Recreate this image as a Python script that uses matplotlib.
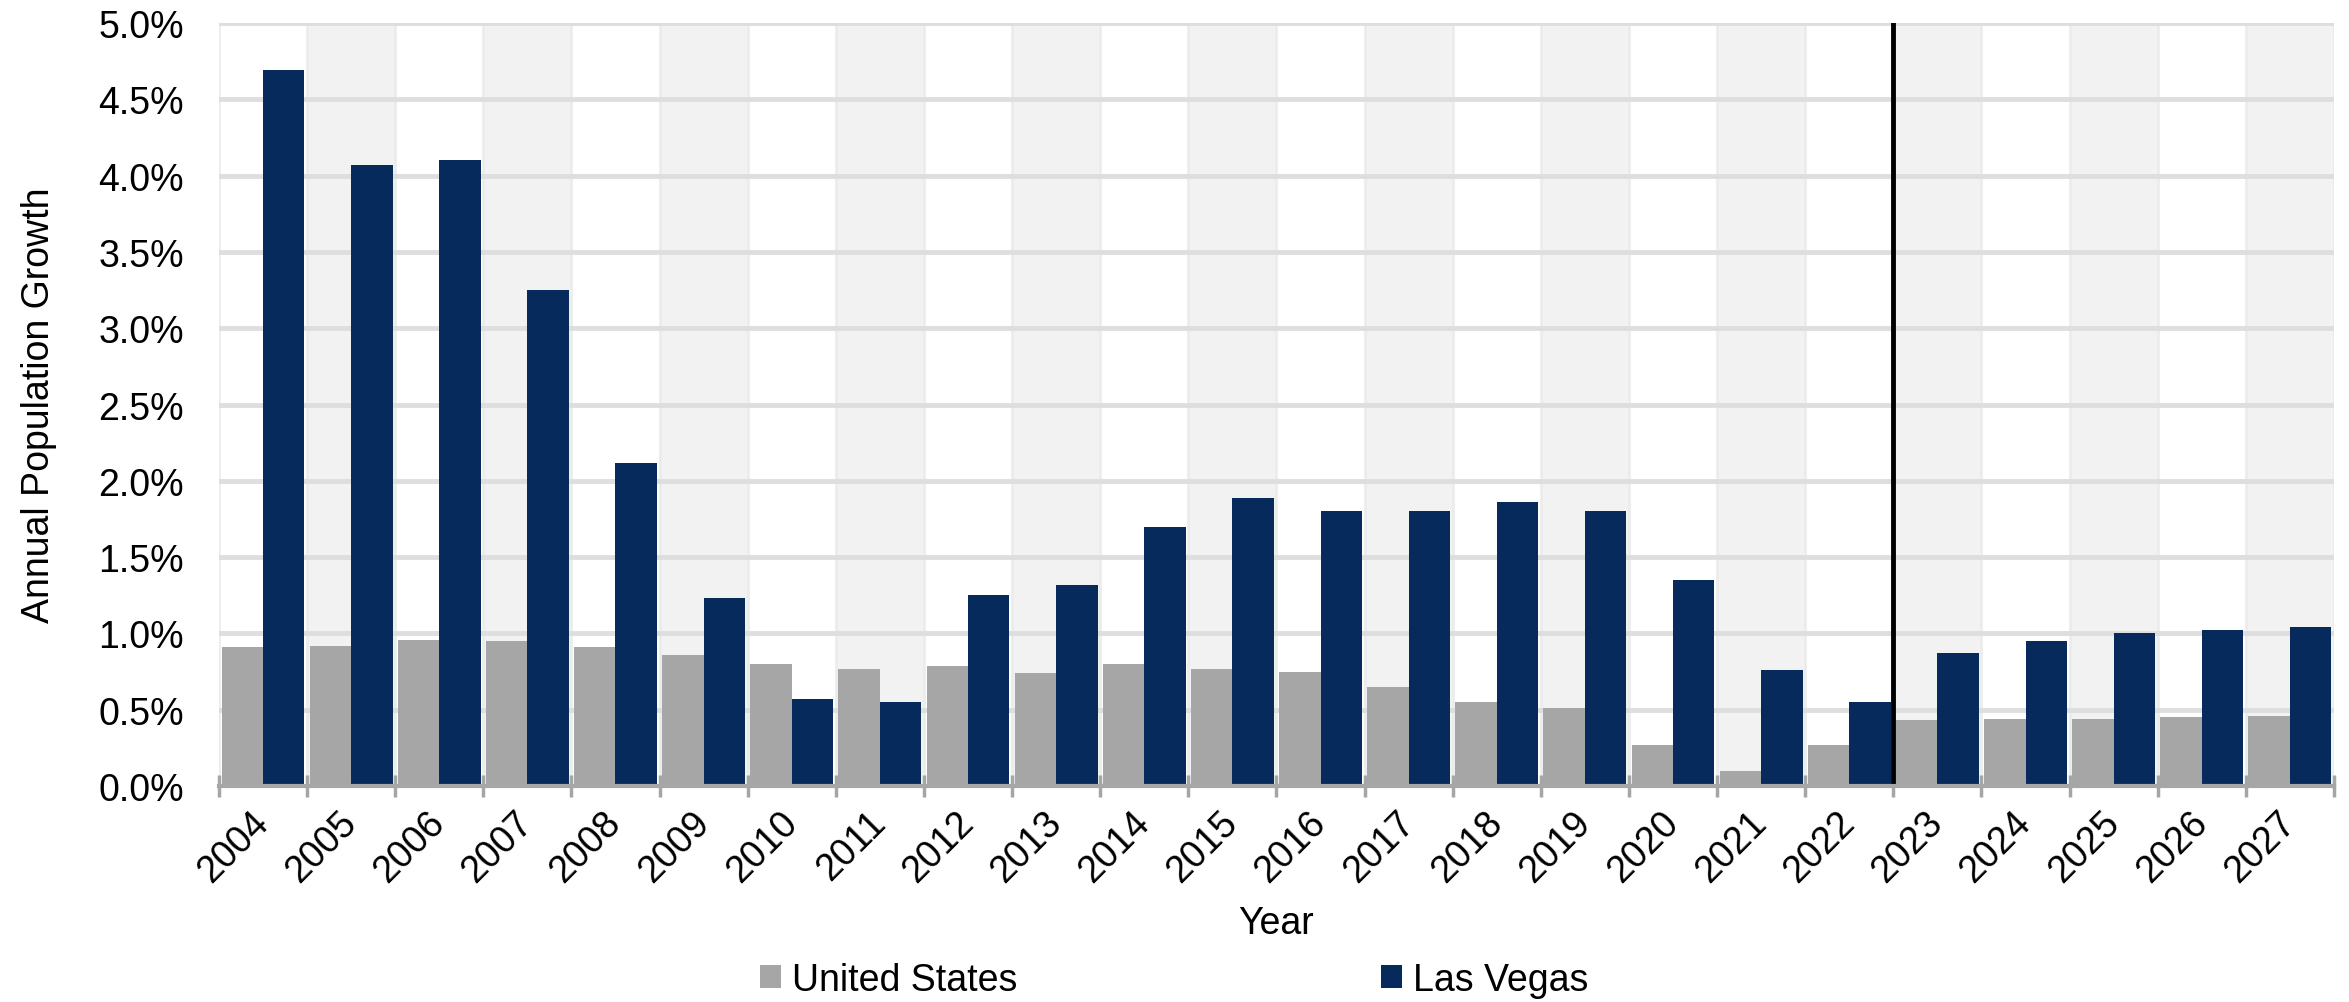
import matplotlib.pyplot as plt
import numpy as np

plt.rcParams['font.family'] = ['Liberation Sans', 'DejaVu Sans']

years = [str(y) for y in range(2004, 2028)]
us_growth = [0.91, 0.92, 0.96, 0.95, 0.91, 0.86, 0.80, 0.77, 0.79, 0.74, 0.80, 0.77,
             0.75, 0.65, 0.55, 0.51, 0.27, 0.10, 0.27, 0.43, 0.44, 0.44, 0.45, 0.46]
lv_growth = [4.69, 4.07, 4.10, 3.25, 2.12, 1.23, 0.57, 0.55, 1.25, 1.32, 1.70, 1.89,
             1.80, 1.80, 1.86, 1.80, 1.35, 0.76, 0.55, 0.87, 0.95, 1.00, 1.02, 1.04]
forecast_start = 18.5  # line between 2022 and 2023

us_color = '#a6a6a6'
lv_color = '#062a5c'
fs = 27

fig = plt.figure(figsize=(23.49, 10.03), dpi=100)
ax = fig.add_axes([0.0932, 0.2153, 0.9004, 0.7607])

X = np.arange(len(years))
# alternating background bands
for i in X:
    if i % 2 == 1:
        ax.axvspan(i - 0.5, i + 0.5, color='#f2f2f2', zorder=0, lw=0)
for i in range(len(years) + 1):
    ax.axvline(i - 0.5, color='#ececec', lw=2, zorder=0.5)

ax.set_axisbelow(True)
ax.grid(axis='y', color='#dedede', lw=3.5)

w = 0.47
ax.bar(X - w / 2, us_growth, width=w, color=us_color, label='United States', zorder=2)
ax.bar(X + w / 2, lv_growth, width=w, color=lv_color, label='Las Vegas', zorder=2)

ax.axvline(forecast_start, color='black', lw=3.5, zorder=3)

ax.set_xlim(-0.5, len(years) - 0.5)
ax.set_ylim(0, 5)
ax.set_yticks(np.arange(0, 5.01, 0.5))
ax.set_yticklabels([f'{v:.1f}%' for v in np.arange(0, 5.01, 0.5)], fontsize=fs)
ax.tick_params(axis='y', length=0, pad=25)

ax.set_xticks(X)
ax.set_xticklabels(years, fontsize=fs, rotation=45, ha='right', va='center',
                   rotation_mode='anchor')
ax.tick_params(axis='x', length=0, pad=22)
ax.set_xticks(np.arange(len(years) + 1) - 0.5, minor=True)
ax.tick_params(axis='x', which='minor', direction='inout', length=16, width=2.5,
               color='#a6a6a6')

for s in ['top', 'right', 'left']:
    ax.spines[s].set_visible(False)
ax.spines['bottom'].set_color('#a6a6a6')
ax.spines['bottom'].set_linewidth(3)
ax.spines['bottom'].set_zorder(4)

ax.set_ylabel('Annual Population Growth', fontsize=fs, va='center')
ax.yaxis.set_label_coords(-0.085, 0.5)
ax.set_xlabel('Year', fontsize=fs, va='center')
ax.xaxis.set_label_coords(0.5, -0.18)

fig.legend(loc='center', bbox_to_anchor=(0.5, 0.022), ncol=2, frameon=False,
           fontsize=fs, handlelength=0.55, handleheight=0.55, handletextpad=0.3,
           columnspacing=9.7)

fig.savefig('out.png', dpi=100)
